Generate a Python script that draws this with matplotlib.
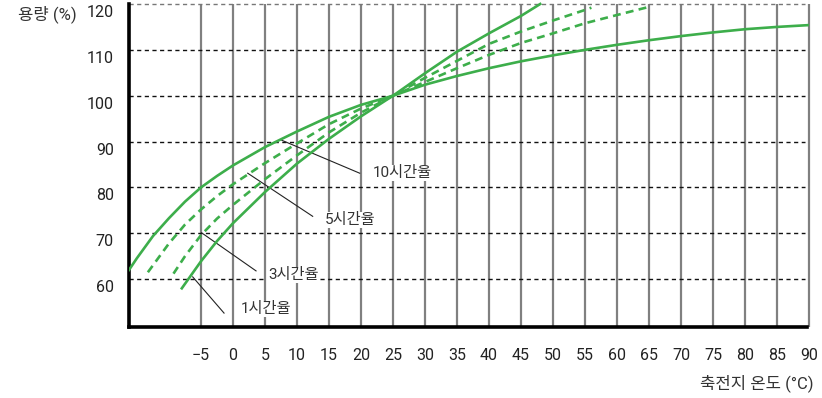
import matplotlib
matplotlib.use("Agg")
import matplotlib.pyplot as plt
import matplotlib.transforms as mtransforms

plt.rcParams['font.family'] = ['Roboto', 'Noto Sans CJK KR', 'DejaVu Sans']

# battery temperature (degC) vs capacity (%)
temp_10h = [-16.25, -15, -12.5, -10, -7.5, -5, -2.5, 0, 5, 10, 15, 20, 25, 30, 35,
            40, 45, 50, 55, 60, 65, 70, 75, 80, 85, 90]
cap_10h = [62.0, 64.6, 69.4, 73.3, 76.9, 80.0, 82.5, 84.8, 88.8, 92.2, 95.4, 98.0,
           100, 102.4, 104.3, 106.0, 107.5, 108.8, 110.0, 111.1, 112.1, 113.0,
           113.8, 114.5, 115.0, 115.4]

temp_5h = [-13.3, -10, -7.5, -5, -2.5, 0, 5, 10, 15, 20, 25, 30, 35, 40, 45, 50,
           55, 60, 64.8]
cap_5h = [61.5, 67.8, 71.9, 75.2, 78.1, 80.7, 85.3, 89.6, 93.8, 97.2, 100, 103.0,
          106.0, 108.9, 111.5, 113.6, 115.8, 117.6, 119.3]

temp_3h = [-9.3, -7.5, -5, -2.5, 0, 5, 10, 15, 20, 25, 30, 35, 40, 45, 50, 55, 56]
cap_3h = [61.2, 65.0, 69.6, 73.2, 76.2, 81.8, 87.0, 92.0, 96.3, 100, 103.9, 107.6,
          111.3, 114.0, 116.4, 118.7, 119.2]

temp_1h = [-8, -5, -2.5, 0, 5, 10, 15, 20, 25, 30, 35, 40, 45, 48]
cap_1h = [58.0, 63.9, 68.3, 72.2, 79.0, 85.2, 90.6, 95.5, 100, 104.9, 109.6, 113.6,
          117.4, 120.0]

x_ticks = list(range(-5, 95, 5))
y_ticks = list(range(60, 130, 10))

green = '#3DAE4B'

fig = plt.figure(figsize=(8.22, 3.98), dpi=100)
ax = fig.add_axes([129 / 822, 70.7 / 398, 680 / 822, 323.3 / 398])
ax.set_xlim(-16.25, 90)
ax.set_ylim(49.5, 120)

# grid
ax.vlines(x_ticks, 49.5, 120, color='#808080', lw=1.6, zorder=1, clip_on=False)
for y in y_ticks:
    c = '#777777' if y == 120 else '#111111'
    ax.hlines(y, -16.25, 89.4, color=c, lw=1.0, linestyles=(0, (3, 2.5)),
              zorder=1, clip_on=False)

# curves
ax.plot(temp_10h, cap_10h, color=green, lw=1.9, zorder=3)
ax.plot(temp_5h, cap_5h, color=green, lw=1.9, dashes=(3, 2), zorder=3)
ax.plot(temp_3h, cap_3h, color=green, lw=1.9, dashes=(3, 2), zorder=3)
ax.plot(temp_1h, cap_1h, color=green, lw=1.9, zorder=3, clip_on=False)

# leader lines + labels
labels = [('10시간율', (7.6, 90.3), (19.8, 83.1), (21.9, 83.1)),
          ('5시간율', (2.3, 83.1), (12.45, 73.7), (14.4, 72.9)),
          ('3시간율', (-4.9, 70.1), (3.6, 61.8), (5.5, 60.9)),
          ('1시간율', (-6.3, 60.5), (-1.4, 52.6), (1.2, 53.4))]
for txt, p0, p1, pt in labels:
    ax.plot([p0[0], p1[0]], [p0[1], p1[1]], color='#222222', lw=0.8, zorder=2)
    ax.text(pt[0], pt[1], txt, fontsize=11, color='#333333', ha='left',
            va='center', zorder=4,
            bbox=dict(facecolor='white', edgecolor='none', pad=0.5))

for s in ['top', 'right']:
    ax.spines[s].set_visible(False)
ax.spines['left'].set_linewidth(2.6)
ax.spines['bottom'].set_linewidth(2.6)
ax.spines['bottom'].set_bounds(-16.25, 89.7)

ax.set_xticks(x_ticks)
ax.set_yticks(y_ticks)
ax.tick_params(length=0, labelsize=11.5, colors='#222222')
ax.tick_params(axis='x', pad=15)
ax.tick_params(axis='y', pad=11)

# y tick labels sit a little below their grid lines
shift = mtransforms.ScaledTranslation(0, -7 / 100, fig.dpi_scale_trans)
for lab in ax.get_yticklabels():
    lab.set_transform(lab.get_transform() + shift)

fig.text(77 / 822, 1 - 14 / 398, '용량 (%)', fontsize=12, ha='right', va='center',
         color='#333333')
fig.text(813 / 822, 1 - 383 / 398, '축전지 온도 (°C)', fontsize=12, ha='right',
         va='center', color='#333333')

fig.savefig('out.png', dpi=100)
